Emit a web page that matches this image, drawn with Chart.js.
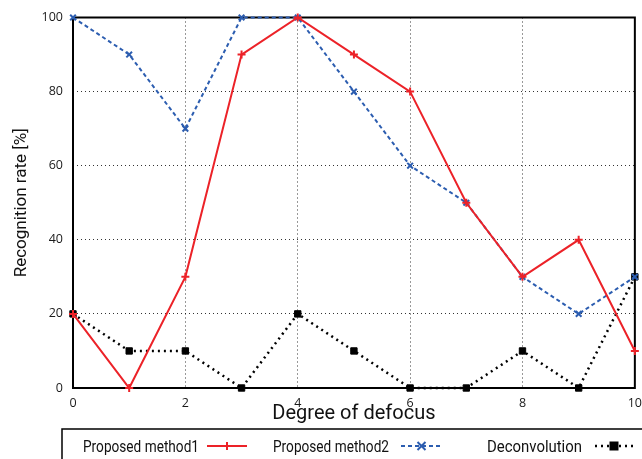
<!DOCTYPE html>
<html>
<head>
<meta charset="utf-8">
<script src="https://cdn.jsdelivr.net/npm/chart.js@4/dist/chart.umd.min.js"></script>
<style>
  html, body { margin: 0; padding: 0; overflow: hidden; background: #fff; }
  #wrap { width: 650px; height: 459px; }
</style>
</head>
<body>
<div id="wrap"><canvas id="defocus-chart" width="650" height="459"></canvas></div>
<script>
const degrees = [0, 1, 2, 3, 4, 5, 6, 7, 8, 9, 10];
const method1 = [20, 0, 30, 90, 100, 90, 80, 50, 30, 40, 10];
const method2 = [100, 90, 70, 100, 100, 80, 60, 50, 30, 20, 30];
const deconvolution = [20, 10, 10, 0, 20, 10, 0, 0, 10, 0, 30];
const seriesNames = ['Proposed method1', 'Proposed method2', 'Deconvolution'];

const toPoints = (arr) => arr.map((v, i) => ({ x: degrees[i], y: v }));

// legend drawn by hand (gnuplot style): text, then a line sample with marker
const boxLegend = {
  id: 'boxLegend',
  afterDraw(chart) {
    const ctx = chart.ctx;
    const textX = [83, 273, 487];
    const textW = [116, 116, 95];
    const sampleX = [[207, 247], [401, 442], [595, 633]];
    ctx.save();
    ctx.setLineDash([]);
    ctx.strokeStyle = '#000';
    ctx.lineWidth = 1.5;
    ctx.strokeRect(62, 429, 700, 60);
    ctx.font = "16px Roboto";
    ctx.textBaseline = 'alphabetic';
    chart.data.datasets.forEach((ds, i) => {
      ctx.fillStyle = '#111';
      ctx.fillText(ds.label, textX[i], 452, textW[i]);
      const [x0, x1] = sampleX[i], y = 446;
      ctx.beginPath();
      ctx.setLineDash(ds.borderDash || []);
      ctx.strokeStyle = ds.borderColor;
      ctx.lineWidth = ds.borderWidth;
      ctx.moveTo(x0, y);
      ctx.lineTo(x1, y);
      ctx.stroke();
      ctx.setLineDash([]);
      const cx = (x0 + x1) / 2, r = ds.pointRadius;
      ctx.beginPath();
      if (ds.pointStyle === 'cross') {
        ctx.moveTo(cx - r, y); ctx.lineTo(cx + r, y);
        ctx.moveTo(cx, y - r); ctx.lineTo(cx, y + r);
        ctx.lineWidth = ds.pointBorderWidth;
        ctx.stroke();
      } else if (ds.pointStyle === 'crossRot') {
        ctx.moveTo(cx - r, y - r); ctx.lineTo(cx + r, y + r);
        ctx.moveTo(cx - r, y + r); ctx.lineTo(cx + r, y - r);
        ctx.lineWidth = ds.pointBorderWidth;
        ctx.stroke();
      } else {
        ctx.fillStyle = ds.pointBackgroundColor;
        ctx.fillRect(cx - r, y - r, 2 * r, 2 * r);
      }
    });
    ctx.restore();
  }
};

const frameBox = {
  id: 'frameBox',
  beforeDatasetsDraw(chart) {
    // solid plot frame (grid dash would otherwise leak into the axis lines)
    const { ctx, chartArea: a } = chart;
    ctx.save();
    ctx.setLineDash([]);
    ctx.strokeStyle = '#000';
    ctx.lineWidth = 2;
    ctx.strokeRect(a.left, a.top, a.right - a.left, a.bottom - a.top);
    ctx.restore();
  }
};

const gridColor = (edgeA, edgeB) => (c) =>
  (c.tick.value === edgeA || c.tick.value === edgeB) ? 'rgba(0,0,0,0)' : 'rgba(0,0,0,0.8)';

const ctx = document.getElementById('defocus-chart').getContext('2d');
new Chart(ctx, {
  type: 'line',
  data: {
    datasets: [{
      label: seriesNames[0],
      data: toPoints(method1),
      borderColor: '#ec2228',
      borderWidth: 2,
      pointStyle: 'cross',
      pointRadius: 4,
      pointBorderWidth: 2,
      pointBorderColor: '#ec2228',
      tension: 0,
      clip: false
    }, {
      label: seriesNames[1],
      data: toPoints(method2),
      borderColor: '#2c5db0',
      borderWidth: 2,
      borderDash: [4, 3],
      pointStyle: 'crossRot',
      pointRadius: 4,
      pointBorderWidth: 2,
      pointBorderColor: '#2c5db0',
      tension: 0,
      clip: false
    }, {
      label: seriesNames[2],
      data: toPoints(deconvolution),
      borderColor: '#000',
      borderWidth: 2.5,
      borderDash: [2, 4],
      pointStyle: 'rect',
      pointRadius: 4.5,
      pointBorderWidth: 1,
      pointBorderColor: '#000',
      pointBackgroundColor: '#000',
      tension: 0,
      clip: false
    }]
  },
  options: {
    responsive: false,
    animation: false,
    layout: { padding: { left: 0, top: 16, right: 15, bottom: 31 } },
    plugins: {
      legend: { display: false },
      tooltip: { enabled: false }
    },
    scales: {
      x: {
        type: 'linear',
        min: 0,
        max: 10,
        afterFit: (scale) => { scale.height = 40; },
        border: { display: false, dash: [1, 3] },
        grid: { drawTicks: false, color: gridColor(0, 10), lineWidth: 1 },
        ticks: {
          stepSize: 2,
          padding: 8,
          color: '#1a1a1a',
          font: { size: 12.5, family: 'Open Sans' }
        },
        title: {
          display: true,
          text: 'Degree of defocus',
          color: '#111',
          font: { size: 20, family: 'Roboto' },
          padding: { top: 0, bottom: 2 }
        }
      },
      y: {
        min: 0,
        max: 100,
        afterFit: (scale) => { scale.width = 73; },
        border: { display: false, dash: [1, 3] },
        grid: { drawTicks: false, color: gridColor(0, 100), lineWidth: 1 },
        ticks: {
          stepSize: 20,
          padding: 10,
          color: '#1a1a1a',
          font: { size: 12.5, family: 'Open Sans' }
        },
        title: {
          display: true,
          text: 'Recognition rate [%]',
          color: '#111',
          font: { size: 17, family: 'Roboto' },
          padding: { top: 12, bottom: 0 }
        }
      }
    }
  },
  plugins: [boxLegend, frameBox]
});
</script>
</body>
</html>
